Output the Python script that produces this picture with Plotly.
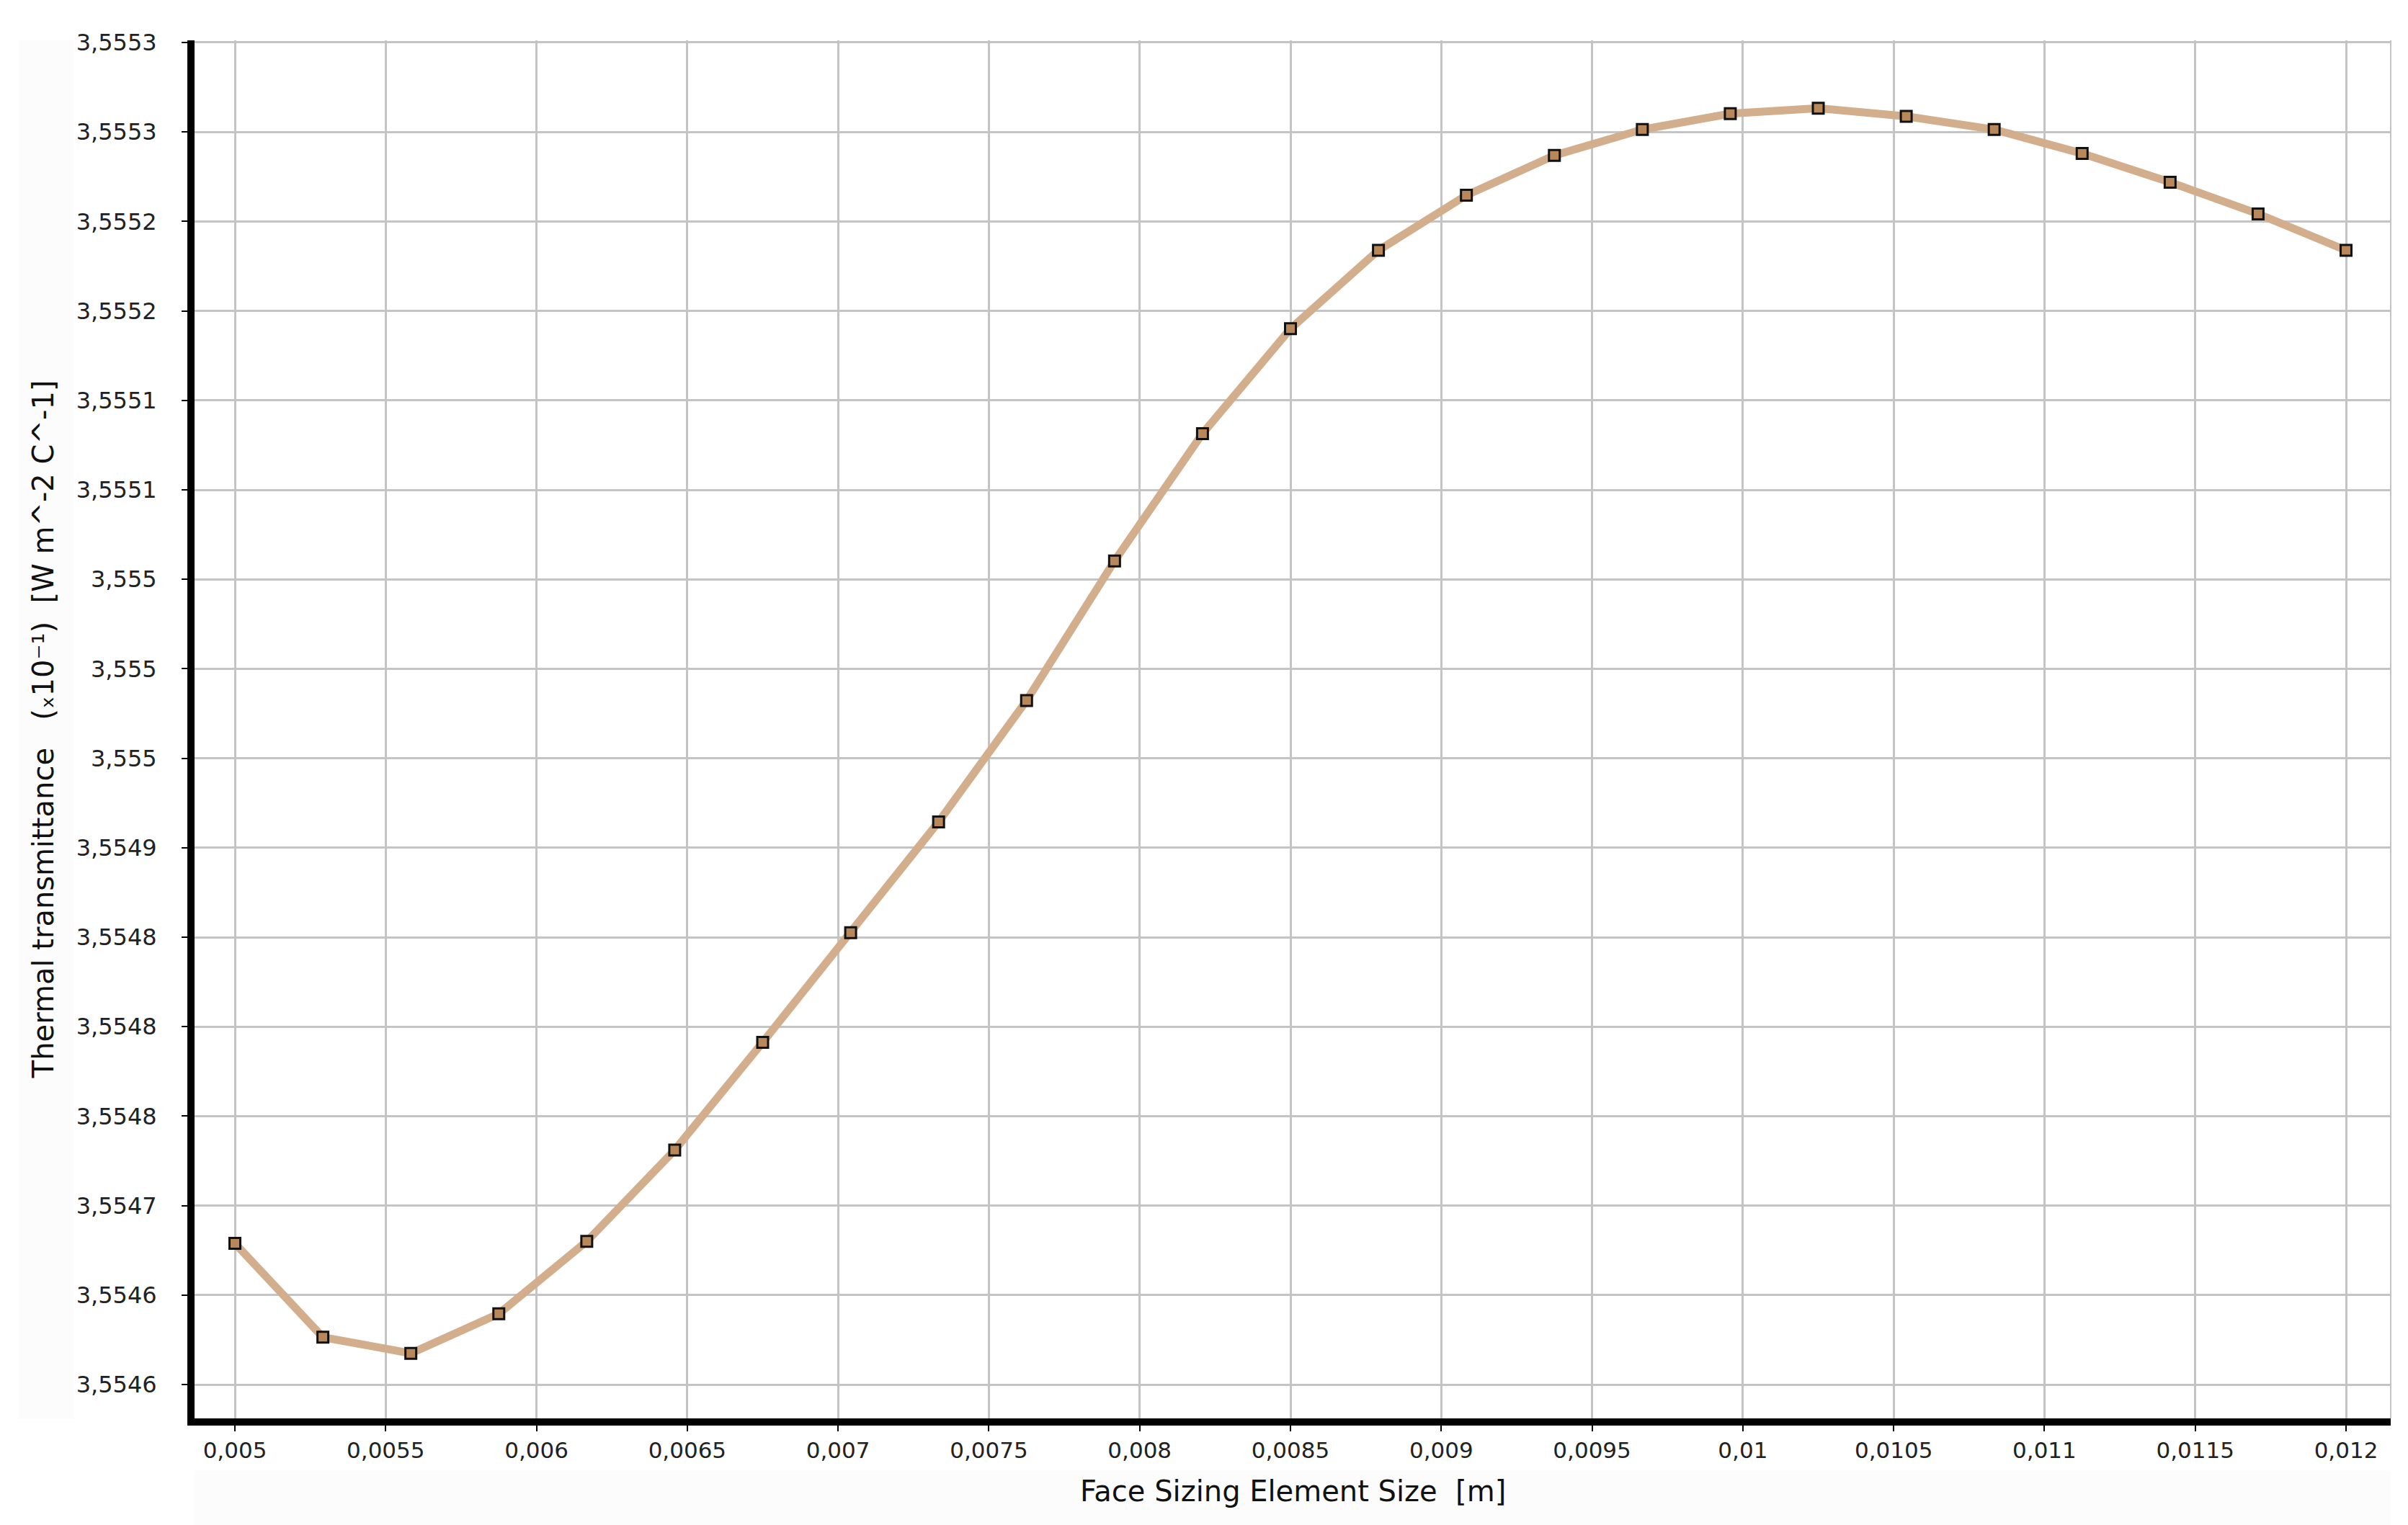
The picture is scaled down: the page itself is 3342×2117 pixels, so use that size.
import plotly.graph_objects as go

# face sizing element size [m]
element_size = [0.005, 0.0052917, 0.0055833, 0.005875, 0.0061667, 0.0064583,
                0.00675, 0.0070417, 0.0073333, 0.007625, 0.0079167, 0.0082083,
                0.0085, 0.0087917, 0.0090833, 0.009375, 0.0096667, 0.0099583,
                0.01025, 0.0105417, 0.0108333, 0.011125, 0.0114167, 0.0117083,
                0.012]

# thermal transmittance (x10^-1) [W m^-2 C^-1]
transmittance = [3.5546737, 3.5546247, 3.5546163, 3.5546369, 3.5546747, 3.5547223,
                 3.5547785, 3.5548357, 3.5548935, 3.5549568, 3.5550296, 3.5550960,
                 3.5551507, 3.5551916, 3.5552203, 3.5552411, 3.5552546, 3.5552629,
                 3.5552657, 3.5552615, 3.5552546, 3.5552421, 3.5552271, 3.5552106,
                 3.5551916]

x_ticks = [0.005, 0.0055, 0.006, 0.0065, 0.007, 0.0075, 0.008, 0.0085, 0.009,
           0.0095, 0.01, 0.0105, 0.011, 0.0115, 0.012]
x_ticktext = ["0,005", "0,0055", "0,006", "0,0065", "0,007", "0,0075", "0,008",
              "0,0085", "0,009", "0,0095", "0,01", "0,0105", "0,011", "0,0115", "0,012"]

y_ticktext = ["3,5546", "3,5546", "3,5547", "3,5548", "3,5548", "3,5548", "3,5549",
              "3,555", "3,555", "3,555", "3,5551", "3,5551", "3,5552", "3,5552",
              "3,5553", "3,5553"]

y0, y1 = 3.5546, 3.5553
step = (y1 - y0) / (len(y_ticktext) - 1)
y_ticks = [y0 + k * step for k in range(len(y_ticktext))]

fig = go.Figure()
fig.add_trace(go.Scatter(
    x=element_size, y=transmittance, mode="lines+markers",
    line=dict(color="#d2ae8c", width=11),
    marker=dict(symbol="square", size=15, color="#b8875a",
                line=dict(color="#111111", width=3)),
    showlegend=False,
))

# faint panels behind the axis titles (paper coords relative to plot area)
fig.add_shape(type="rect", xref="paper", yref="paper", x0=0, x1=1, y0=-0.0795, y1=-0.038,
              fillcolor="#fcfcfc", line_width=0, layer="below")
fig.add_shape(type="rect", xref="paper", yref="paper", x0=-0.08, x1=-0.055, y0=0.0, y1=1.0,
              fillcolor="#fcfcfc", line_width=0, layer="below")
# right border
fig.add_shape(type="line", xref="paper", yref="paper", x0=1, x1=1, y0=0, y1=1,
              line=dict(color="#c4c4c4", width=2))

fig.add_annotation(text="Face Sizing Element Size \u00a0[m]", xref="paper", yref="paper",
                   x=0.5, y=-0.053, showarrow=False, yanchor="middle",
                   font=dict(family="DejaVu Sans", size=40, color="#111111"))
fig.add_annotation(text="Thermal transmittance \u00a0 (\u209310\u207b\u00b9) \u00a0[W m^-2 C^-1]",
                   xref="paper", yref="paper", x=-0.069, y=0.5, textangle=-90,
                   showarrow=False, xanchor="center",
                   font=dict(family="DejaVu Sans", size=40, color="#111111"))

fig.update_xaxes(
    range=[0.0048662, 0.0121481], tickvals=x_ticks, ticktext=x_ticktext,
    showgrid=True, gridcolor="#c4c4c4", gridwidth=3,
    showline=True, linecolor="black", linewidth=10,
    ticks="outside", ticklen=8, tickwidth=2, tickcolor="black",
    tickfont=dict(family="DejaVu Sans", size=31, color="#222222"),
    zeroline=False,
)
fig.update_yaxes(
    range=[y0 - 0.378 * step, y0 + 15.024 * step], tickvals=y_ticks, ticktext=y_ticktext,
    showgrid=True, gridcolor="#c4c4c4", gridwidth=3,
    showline=True, linecolor="black", linewidth=10,
    ticks="outside", ticklen=8, tickwidth=2, tickcolor="black",
    tickfont=dict(family="DejaVu Sans", size=32, color="#222222"),
    ticklabelstandoff=28,
    zeroline=False,
)
fig.update_layout(
    width=3342, height=2117,
    margin=dict(l=262, r=32, t=48, b=156, pad=0),
    plot_bgcolor="white", paper_bgcolor="white",
)

fig.write_html("out.html")
